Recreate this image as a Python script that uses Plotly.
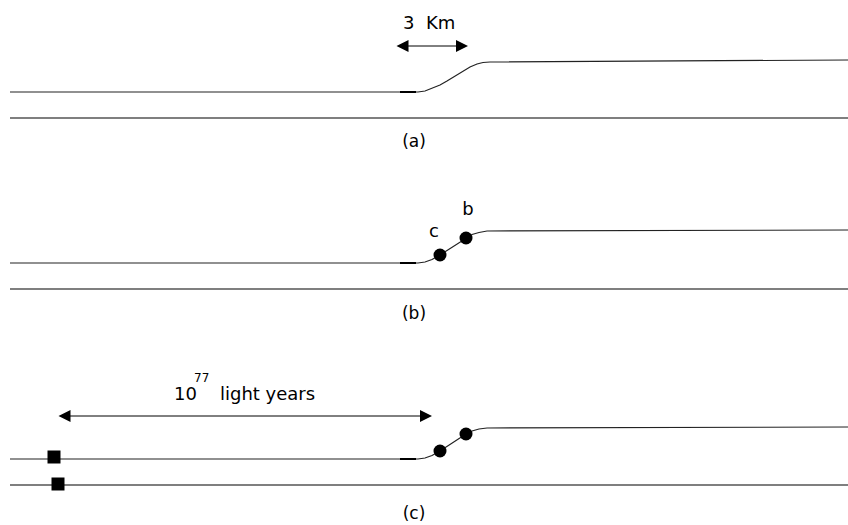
import plotly.graph_objects as go

# Panel (a): ground line and elevated curve
a_base_x = [10, 848]
a_base_y = [118, 118]
a_curve_x = [10, 400, 418, 425, 432, 440, 447, 455, 462, 470, 477, 483, 490, 848]
a_curve_y = [92, 92, 92, 91, 88.5, 85, 81, 76, 71.5, 67, 64, 62.5, 62, 60]

# Panel (b)
b_base_x = [10, 848]
b_base_y = [289, 289]
b_curve_x = [10, 400, 418, 425, 432, 440, 466, 472, 479, 487, 848]
b_curve_y = [263, 263, 263, 262, 259.5, 255, 238, 234.5, 232.5, 231, 230]
b_dots_x = [440, 466]
b_dots_y = [255, 238]
b_dot_labels = ["c", "b"]
b_label_x = [434, 468]
b_label_y = [232, 210]

# Panel (c)
c_base_x = [10, 848]
c_base_y = [485, 485]
c_curve_x = [10, 400, 418, 425, 432, 440, 466, 472, 479, 487, 848]
c_curve_y = [459, 459, 459, 458, 455.5, 451, 434, 431, 429, 428, 427]
c_dots_x = [440, 466]
c_dots_y = [451, 434]
c_squares_x = [54, 58]
c_squares_y = [457, 484]

# thicker short segments at the start of the bend
thick_x = [400, 416]
thick_y = [[92, 92], [263, 263], [459, 459]]

panel_labels = ["(a)", "(b)", "(c)"]
panel_label_x = [414, 414, 414]
panel_label_y = [143, 315, 515]

LINE = "#222222"
BASE = "#555555"

fig = go.Figure()
for bx, by in [(a_base_x, a_base_y), (b_base_x, b_base_y), (c_base_x, c_base_y)]:
    fig.add_trace(go.Scatter(x=bx, y=by, mode="lines",
                             line=dict(color=BASE, width=1.5), hoverinfo="skip"))
for cx, cy in [(a_curve_x, a_curve_y), (b_curve_x, b_curve_y), (c_curve_x, c_curve_y)]:
    fig.add_trace(go.Scatter(x=cx, y=cy, mode="lines",
                             line=dict(color=LINE, width=1.2), hoverinfo="skip"))
for ty in thick_y:
    fig.add_trace(go.Scatter(x=thick_x, y=ty, mode="lines",
                             line=dict(color="black", width=2), hoverinfo="skip"))
for dx, dy in [(b_dots_x, b_dots_y), (c_dots_x, c_dots_y)]:
    fig.add_trace(go.Scatter(x=dx, y=dy, mode="markers",
                             marker=dict(color="black", size=13, symbol="circle"),
                             hoverinfo="skip"))
fig.add_trace(go.Scatter(x=c_squares_x, y=c_squares_y, mode="markers",
                         marker=dict(color="black", size=13, symbol="square"),
                         hoverinfo="skip"))
fig.add_trace(go.Scatter(x=b_label_x, y=b_label_y, mode="text", text=b_dot_labels,
                         textfont=dict(family="DejaVu Sans", size=18, color="black"),
                         hoverinfo="skip"))
fig.add_trace(go.Scatter(x=panel_label_x, y=panel_label_y, mode="text", text=panel_labels,
                         textfont=dict(family="DejaVu Sans", size=17, color="black"),
                         hoverinfo="skip"))

font = dict(family="DejaVu Sans", size=18, color="black")
# double-headed arrows
for (x0, x1, y) in [(395, 468, 46), (57, 432, 416)]:
    fig.add_annotation(x=x1, y=y, ax=x0, ay=y, xref="x", yref="y", axref="x", ayref="y",
                       showarrow=True, arrowhead=2, startarrowhead=2, arrowside="end+start",
                       arrowsize=2.4, startarrowsize=2.4, arrowwidth=1, arrowcolor="black", text="")
fig.add_annotation(x=429, y=22, xref="x", yref="y", text="3  Km", showarrow=False, font=font)
fig.add_annotation(x=185, y=393, xref="x", yref="y", text="10", showarrow=False, font=font)
fig.add_annotation(x=201, y=378, xref="x", yref="y", text="77", showarrow=False,
                   font=dict(family="DejaVu Sans", size=12, color="black"))
fig.add_annotation(x=267, y=393, xref="x", yref="y", text="light years", showarrow=False, font=font)

fig.update_layout(
    width=848, height=525, margin=dict(l=0, r=0, t=0, b=0),
    paper_bgcolor="white", plot_bgcolor="white", showlegend=False,
    xaxis=dict(range=[0, 848], visible=False, fixedrange=True),
    yaxis=dict(range=[525, 0], visible=False, fixedrange=True),
)
fig.write_html("out.html", config={"displayModeBar": False, "staticPlot": True},
               post_script="document.body.style.margin='0';document.body.style.overflow='hidden';")
